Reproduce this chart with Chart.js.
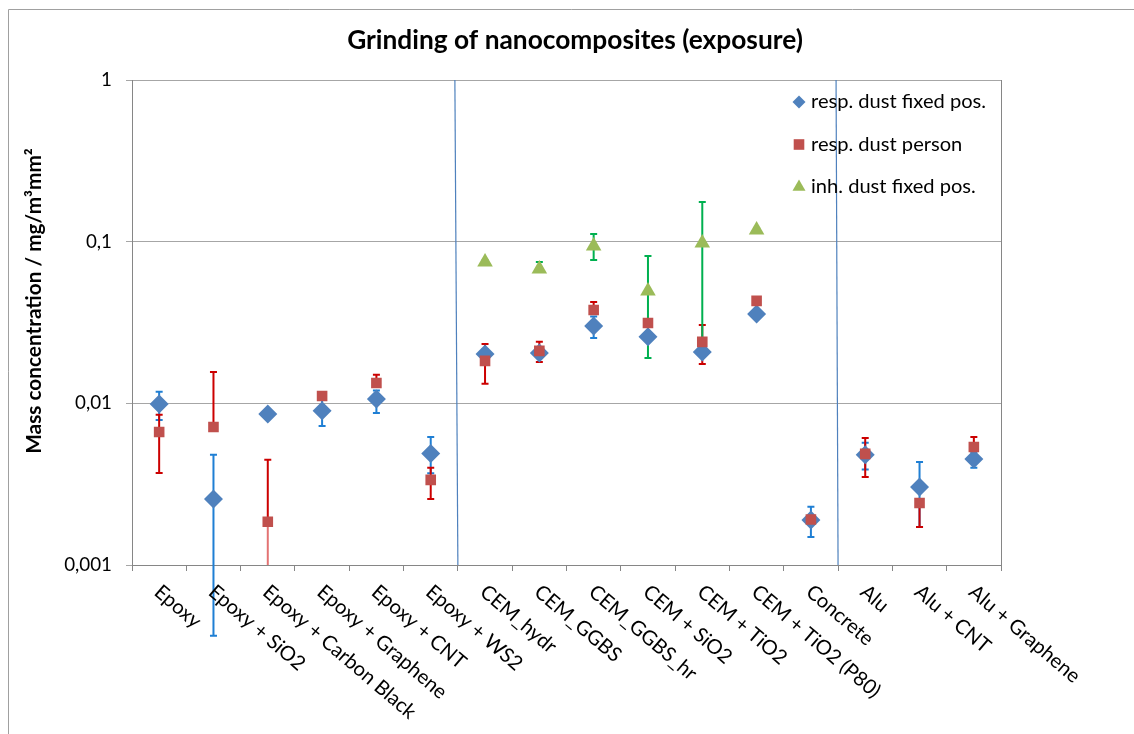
<!DOCTYPE html>
<html>
<head>
<meta charset="utf-8">
<script src="https://cdn.jsdelivr.net/npm/chart.js@4.4.1/dist/chart.umd.min.js"></script>
<style>
  html, body { margin: 0; padding: 0; background: #fff; }
</style>
</head>
<body>
<canvas id="chart" width="1134" height="734"></canvas>
<script>
// Categories and tick labels
const categories = ['Epoxy', 'Epoxy + SiO2', 'Epoxy + Carbon Black', 'Epoxy + Graphene', 'Epoxy + CNT', 'Epoxy + WS2',
  'CEM_hydr', 'CEM_GGBS', 'CEM_GGBS_hr', 'CEM + SiO2', 'CEM + TiO2', 'CEM + TiO2 (P80)', 'Concrete',
  'Alu', 'Alu + CNT', 'Alu + Graphene'];
const yTickValues = [0.001, 0.01, 0.1, 1];
const yTickLabels = ['0,001', '0,01', '0,1', '1'];

// resp. dust fixed pos.
const respFixed   = [0.0099, 0.00256, 0.0086, 0.0090, 0.01065, 0.0049, 0.0202, 0.0205, 0.0301, 0.0258, 0.0208, 0.0357, 0.0019, 0.0048, 0.00304, 0.00453];
const respFixedLo = [0.0079, 0.000365, null, 0.00725, 0.0087, 0.0037, 0.0190, 0.0196, 0.0254, 0.0250, 0.0196, 0.0345, 0.00149, 0.0039, 0.00172, 0.0040];
const respFixedHi = [0.0118, 0.0048, null, 0.0106, 0.0120, 0.0062, 0.0216, 0.0215, 0.0345, 0.0268, 0.0222, 0.0370, 0.00229, 0.0057, 0.00434, 0.0050];

// resp. dust person
const respPerson   = [0.00665, 0.00714, 0.00185, 0.0111, 0.01336, 0.00336, 0.0183, 0.0211, 0.0378, 0.0314, 0.0240, 0.0430, 0.00191, 0.00487, 0.00242, 0.00537];
const respPersonLo = [0.00371, null, 0.001, null, null, 0.00256, 0.0132, 0.0180, null, null, 0.0175, null, null, 0.0035, 0.00172, null];
const respPersonHi = [0.0085, 0.0156, 0.00447, null, 0.0150, 0.0040, 0.0233, 0.0240, 0.0424, null, 0.0305, null, null, 0.0061, null, 0.0062];

// inh. dust fixed pos.
const inhFixed   = [null, null, null, null, null, null, 0.0749, 0.0678, 0.094, 0.0496, 0.0982, 0.118, null, null, null, null];
const inhFixedLo = [null, null, null, null, null, null, 0.0735, 0.066, 0.077, 0.0191, 0.021, 0.116, null, null, null, null];
const inhFixedHi = [null, null, null, null, null, null, 0.0765, 0.0748, 0.1116, 0.0816, 0.176, 0.121, null, null, null, null];

const FONT = 'Lato, "Open Sans", sans-serif';

// pick a font size so a sample string gets the width seen in the picture
function fitSize(text, weight, target) {
  const c = document.createElement('canvas').getContext('2d');
  c.font = weight + ' 100px ' + FONT;
  return Math.round(1000 * target / c.measureText(text).width) / 10;
}
const titleSize = fitSize('Grinding of nanocomposites (exposure)', 'bold', 455);
const axisTitleSize = fitSize('Mass concentration / mg/m³mm²', 'bold', 305);
const xLabelSize = fitSize('Epoxy + Carbon Black', 'normal', 194);
const yLabelSize = fitSize('0,001', 'normal', 48);
const legendSize = fitSize('resp. dust fixed pos.', 'normal', 175);

const seriesInfo = [
  { label: 'resp. dust fixed pos.', data: respFixed, lo: respFixedLo, hi: respFixedHi, color: '#4F81BD', err: '#1F7FD4', style: 'rectRot', r: 9.5 },
  { label: 'resp. dust person', data: respPerson, lo: respPersonLo, hi: respPersonHi, color: '#C0504D', err: '#CC0000', style: 'rect', r: 7.5 },
  { label: 'inh. dust fixed pos.', data: inhFixed, lo: inhFixedLo, hi: inhFixedHi, color: '#9BBB59', err: '#00B050', style: 'triangle', r: 9 }
];

function marker(ctx, style, x, y, r, color) {
  ctx.save();
  ctx.fillStyle = color;
  ctx.beginPath();
  if (style === 'rectRot') {
    ctx.moveTo(x, y - r); ctx.lineTo(x + r, y); ctx.lineTo(x, y + r); ctx.lineTo(x - r, y);
  } else if (style === 'rect') {
    const s = r * Math.SQRT1_2;
    ctx.rect(x - s, y - s, 2 * s, 2 * s);
  } else {
    ctx.moveTo(x, y - r);
    ctx.lineTo(x + r * Math.sin(Math.PI * 2 / 3), y + r * 0.5);
    ctx.lineTo(x - r * Math.sin(Math.PI * 2 / 3), y + r * 0.5);
  }
  ctx.closePath();
  ctx.fill();
  ctx.restore();
}

// Extras: frame, separators, error bars, legend, title, labels
const extras = {
  id: 'extras',
  beforeDatasetsDraw(chart) {
    const ctx = chart.ctx, a = chart.chartArea;
    const x = chart.scales.x, y = chart.scales.y;

    // separator lines between groups
    ctx.save();
    ctx.strokeStyle = '#4F81BD';
    ctx.lineWidth = 1.2;
    [[5, 3], [12, 2]].forEach(([i, lean]) => {
      const bx = (x.getPixelForValue(i) + x.getPixelForValue(i + 1)) / 2;
      ctx.beginPath();
      ctx.moveTo(bx - lean, a.top);
      ctx.lineTo(bx, a.bottom);
      ctx.stroke();
    });
    ctx.restore();

    // error bars
    ctx.save();
    ctx.lineWidth = 2;
    seriesInfo.forEach(s => {
      s.data.forEach((v, i) => {
        if (v == null) return;
        const px = x.getPixelForValue(i);
        const py = y.getPixelForValue(v);
        [s.lo[i], s.hi[i]].forEach(e => {
          if (e == null) return;
          const pe = y.getPixelForValue(e);
          const onAxis = e === y.min;
          ctx.strokeStyle = s.err;
          ctx.globalAlpha = onAxis ? 0.55 : 1;
          ctx.beginPath();
          ctx.moveTo(px, py);
          ctx.lineTo(px, pe);
          if (!onAxis) {
            ctx.moveTo(px - 3.5, pe);
            ctx.lineTo(px + 3.5, pe);
          }
          ctx.stroke();
        });
      });
    });
    ctx.restore();
  },
  afterDraw(chart) {
    const ctx = chart.ctx, a = chart.chartArea;
    const x = chart.scales.x;

    ctx.save();
    // outer frame
    ctx.strokeStyle = '#A0A0A0';
    ctx.lineWidth = 1;
    ctx.beginPath();
    ctx.moveTo(8.5, 734);
    ctx.lineTo(8.5, 9.5);
    ctx.lineTo(1134, 9.5);
    ctx.stroke();

    // right border of plot area
    ctx.strokeStyle = '#868686';
    ctx.beginPath();
    ctx.moveTo(Math.round(a.right) + 0.5, a.top);
    ctx.lineTo(Math.round(a.right) + 0.5, a.bottom);
    ctx.stroke();

    // title
    ctx.fillStyle = '#000';
    ctx.font = 'bold ' + titleSize + 'px ' + FONT;
    ctx.textAlign = 'center';
    ctx.textBaseline = 'middle';
    ctx.fillText('Grinding of nanocomposites (exposure)', 575, 41);

    // y axis title
    ctx.save();
    ctx.translate(34, 301);
    ctx.rotate(-Math.PI / 2);
    ctx.font = 'bold ' + axisTitleSize + 'px ' + FONT;
    ctx.fillText('Mass concentration / mg/m³mm²', 0, 0);
    ctx.restore();

    // x labels, rotated down to the right
    ctx.font = xLabelSize + 'px ' + FONT;
    ctx.textAlign = 'left';
    ctx.textBaseline = 'middle';
    const ang = 40.5 * Math.PI / 180;
    categories.forEach((c, i) => {
      const px = x.getPixelForValue(i);
      ctx.save();
      ctx.translate(px - 2, a.bottom + 24);
      ctx.rotate(ang);
      ctx.fillText(c, 0, 0);
      ctx.restore();
    });

    // legend
    ctx.font = legendSize + 'px ' + FONT;
    const legendR = { rectRot: 6.5, rect: 7.5, triangle: 7.5 };
    seriesInfo.forEach((s, k) => {
      const ly = 102 + k * 42.5;
      marker(ctx, s.style, 799, ly, legendR[s.style], s.color);
      ctx.fillStyle = '#000';
      ctx.fillText(s.label, 811, ly);
    });
    ctx.restore();
  }
};

const ctx = document.getElementById('chart').getContext('2d');
new Chart(ctx, {
  type: 'line',
  data: {
    labels: categories,
    datasets: seriesInfo.map((s, k) => ({
      label: s.label,
      data: s.data,
      showLine: false,
      pointStyle: s.style,
      pointRadius: s.r,
      pointBackgroundColor: s.color,
      pointBorderColor: s.color,
      pointBorderWidth: 0,
      order: 2 - k
    }))
  },
  options: {
    responsive: false,
    animation: false,
    events: [],
    layout: { padding: { left: 0, top: 80, right: 133, bottom: 0 } },
    plugins: {
      legend: { display: false },
      title: { display: false },
      tooltip: { enabled: false }
    },
    scales: {
      x: {
        type: 'category',
        offset: true,
        afterFit(scale) { scale.height = 169; },
        grid: { offset: true, drawOnChartArea: false, drawTicks: true, tickLength: 6, color: '#868686' },
        border: { display: true, color: '#868686' },
        ticks: { display: false }
      },
      y: {
        type: 'logarithmic',
        min: 0.001,
        max: 1,
        afterFit(scale) { scale.width = 132; },
        afterBuildTicks(scale) { scale.ticks = yTickValues.map(v => ({ value: v })); },
        grid: { color: '#A6A6A6', tickLength: 6, drawTicks: true },
        border: { display: true, color: '#868686' },
        ticks: {
          padding: 14,
          color: '#000',
          font: { family: FONT, size: yLabelSize },
          callback: (v) => yTickLabels[yTickValues.indexOf(v)]
        }
      }
    }
  },
  plugins: [extras]
});
</script>
</body>
</html>
